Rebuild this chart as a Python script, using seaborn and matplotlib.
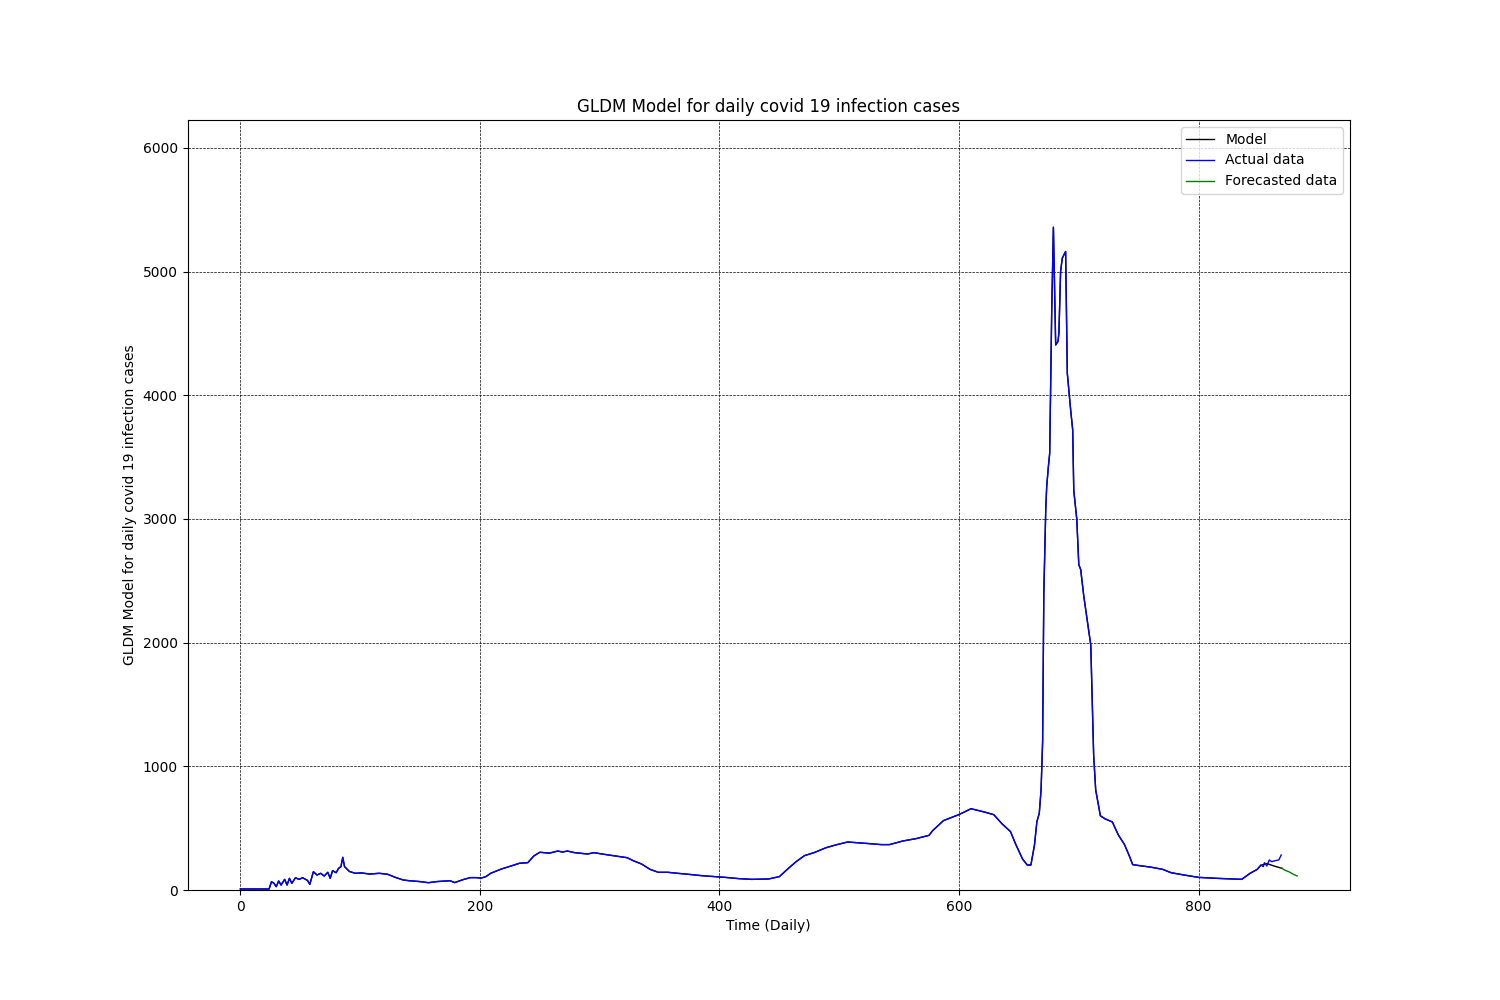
import matplotlib
matplotlib.use("Agg")
import matplotlib.pyplot as plt
import seaborn as sns


# actual daily cases (day, value)
actual_days = [0, 24, 26, 28, 30, 32, 34, 37, 39, 41, 43, 46, 49, 52, 56, 58, 61, 64, 67, 70,
               73, 75, 77, 80, 82, 84, 85.5, 87, 91, 96, 101, 108, 116, 123, 130, 136, 141, 150,
               157, 164, 175, 179, 186, 192, 197, 201, 205, 209, 218, 226, 233, 240, 245, 250,
               258, 265, 269, 273, 279, 290, 295, 304, 315, 323, 328, 335, 342, 349, 357, 365,
               374, 385, 397, 405, 416, 427, 441, 450, 457, 464, 471, 479, 489, 497, 507, 514,
               525, 535, 542, 553, 564, 575, 578, 587, 599, 605, 610, 621, 629, 636, 643, 647,
               653, 657, 660, 663, 665, 667, 668.5, 669.8, 670.8, 672.4, 673.2, 674.6, 675.7,
               677.4, 678.8, 680.7, 682.6, 683.4, 684.8, 686.2, 687.6, 689, 690.4, 691.8, 693.2,
               694.9, 695.8, 698.3, 700, 701.6, 704.1, 710, 712.4, 714.1, 718, 722, 728, 733,
               738, 742, 745, 752, 760, 770, 777, 788, 800, 816, 836, 843, 849, 852, 854, 855,
               857, 859, 861, 864, 867, 869]
actual_vals = [8, 8, 67, 55, 27, 73, 40, 86, 40, 94, 54, 99, 86, 99, 78, 46, 148, 121, 135, 113,
               143, 94, 156, 140, 175, 189, 264, 189, 150, 135, 138, 129, 135, 127, 100, 81, 75, 68,
               59, 68, 75, 60, 84, 100, 100, 96, 108, 135, 170, 194, 216, 221, 275, 305,
               298, 315, 307, 315, 302, 291, 302, 288, 272, 261, 237, 210, 167, 143, 143, 135,
               127, 116, 108, 102, 92, 86, 89, 108, 170, 229, 278, 302, 342, 364, 388, 383,
               375, 367, 367, 396, 415, 442, 480, 561, 606, 633, 657, 631, 609, 534, 472, 377,
               251, 202, 202, 364, 552, 620, 810, 1200, 2400, 3073, 3261, 3423, 3531,
               4690, 5358, 4407, 4434, 4502, 5000, 5108, 5135, 5162, 4178, 4029, 3881,
               3720, 3230, 3000, 2630, 2590, 2380, 1980, 1090, 810, 600, 575, 550, 445,
               370, 280, 205, 195, 185, 167, 140, 121, 102, 94, 86, 135, 167, 202, 189, 221,
               194, 243, 229, 237, 243, 283]

# model tail where it separates from the actual data
model_tail_days = [852, 857, 863, 869.7]
model_tail_vals = [200, 214, 194, 175]

# forecast
forecast_days = [869.7, 872, 875.3, 879, 882.3]
forecast_vals = [175, 160, 148, 128, 113]

n_shared = actual_days.index(849) + 1
model_days = actual_days[:n_shared] + model_tail_days
model_vals = actual_vals[:n_shared] + model_tail_vals

fig, ax = plt.subplots(figsize=(15, 10))
sns.lineplot(x=model_days, y=model_vals, color="black", linewidth=1,
             label="Model", estimator=None, sort=False, ax=ax)
sns.lineplot(x=actual_days, y=actual_vals, color="blue", linewidth=1,
             label="Actual data", estimator=None, sort=False, ax=ax)
sns.lineplot(x=forecast_days, y=forecast_vals, color="green", linewidth=1,
             label="Forecasted data", estimator=None, sort=False, ax=ax)

ax.set_ylim(0, 6225)
ax.grid(color="black", linestyle="--", linewidth=0.5)
ax.set_title("GLDM Model for daily covid 19 infection cases")
ax.set_xlabel("Time (Daily)")
ax.set_ylabel("GLDM Model for daily covid 19 infection cases")
ax.legend(loc="upper right")

plt.savefig("out.png", dpi=100)
